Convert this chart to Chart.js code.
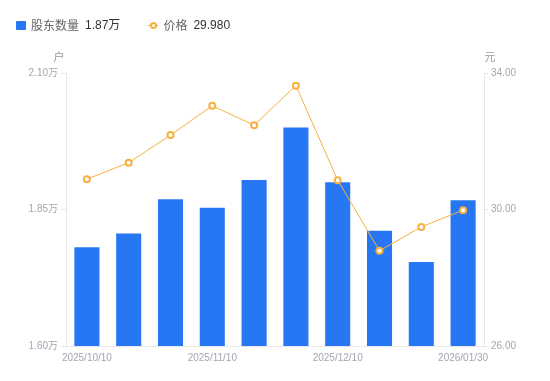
<!DOCTYPE html>
<html>
<head>
<meta charset="utf-8">
<script src="https://cdn.jsdelivr.net/npm/chart.js@4/dist/chart.umd.min.js"></script>
<style>
  html, body { margin: 0; padding: 0; background: #fff; }
  #wrap { position: relative; width: 550px; height: 381px; }
  #legend { position: absolute; left: 16px; top: 17px; height: 16px; display: flex; align-items: center;
    font-family: 'Liberation Sans', 'Noto Sans CJK SC', sans-serif; font-size: 12px; line-height: 16px; }
  .item { display: flex; align-items: center; }
  .name { color: #666; margin-left: 5px; font-family: 'Noto Sans CJK SC', sans-serif; }
  .val { color: #333; margin-left: 6px; }
  .sq { width: 10px; height: 9px; background: #2777f5; border-radius: 1px; }
  .ln { position: relative; width: 10px; height: 8px; }
  .ln::before { content: ''; position: absolute; left: 0; right: 0; top: 3.5px; height: 1px; background: #f7b03f; }
  .ln::after { content: ''; position: absolute; left: 1.5px; top: 0.5px; width: 7px; height: 7px; box-sizing: border-box;
    border: 2px solid #f7b03f; border-radius: 50%; background: #fff; }
  canvas { position: absolute; left: 0; top: 0; }
</style>
</head>
<body>
<div id="wrap">
  <canvas id="c" width="550" height="381"></canvas>
  <div id="legend"></div>
</div>
<script>
// ---- data ----
const categories = ['2025/10/10','2025/10/20','2025/10/31','2025/11/10','2025/11/20','2025/11/30','2025/12/10','2025/12/31','2026/01/20','2026/01/30'];
const shareholders = [1.781, 1.806, 1.869, 1.853, 1.904, 2.000, 1.900, 1.811, 1.754, 1.867]; // 万户
const prices = [30.89, 31.37, 32.18, 33.04, 32.47, 33.63, 30.86, 28.79, 29.49, 29.98]; // 元
const xTickLabels = ['2025/10/10', '2025/11/10', '2025/12/10', '2026/01/30'];
const seriesNames = ['股东数量', '价格'];
const unitLeft = '户';
const unitRight = '元';

const BLUE = '#2777f5';
const ORANGE = '#f7b03f';
const AXIS = '#e6e6e6';
const TICK = '#a3a6b4';
const FONT = "'Liberation Sans', 'Noto Sans CJK SC', sans-serif";

// HTML legend
const lg = document.getElementById('legend');
lg.innerHTML =
  '<div class="item" style="margin-right:28px"><span class="sq"></span><span class="name">' + seriesNames[0] +
  '</span><span class="val">' + shareholders[shareholders.length-1].toFixed(2) + '万</span></div>' +
  '<div class="item"><span class="ln"></span><span class="name">' + seriesNames[1] +
  '</span><span class="val">' + prices[prices.length-1].toFixed(3) + '</span></div>';

const unitPlugin = {
  id: 'units',
  afterDraw(chart) {
    const ctx = chart.ctx;
    const yl = chart.scales.y, yr = chart.scales.y1;
    ctx.save();
    ctx.font = "11px 'Noto Sans CJK SC', sans-serif";
    ctx.fillStyle = '#999';
    ctx.textAlign = 'center';
    ctx.textBaseline = 'middle';
    ctx.fillText(unitLeft, yl.right - 7, chart.chartArea.top - 16);
    ctx.fillText(unitRight, yr.left + 6, chart.chartArea.top - 16);
    ctx.restore();
  }
};

new Chart(document.getElementById('c'), {
  data: {
    labels: categories,
    datasets: [
      {
        type: 'line', label: seriesNames[1], data: prices, yAxisID: 'y1', order: 0,
        borderColor: ORANGE, borderWidth: 1, pointRadius: 3, pointBorderWidth: 2,
        pointBackgroundColor: '#fff', pointBorderColor: ORANGE, tension: 0
      },
      {
        type: 'bar', label: seriesNames[0], data: shareholders, yAxisID: 'y', order: 1,
        backgroundColor: BLUE, borderWidth: 0, categoryPercentage: 1, barPercentage: 0.6
      }
    ]
  },
  options: {
    responsive: false,
    animation: false,
    devicePixelRatio: 1,
    layout: { padding: { top: 73, left: 0, right: 0, bottom: 0 } },
    plugins: { legend: { display: false }, tooltip: { enabled: false } },
    scales: {
      x: {
        type: 'category', position: 'bottom',
        grid: { display: false, drawTicks: false },
        border: { display: true, color: AXIS, width: 1 },
        ticks: {
          color: TICK, font: { family: FONT, size: 10 }, padding: 6, maxRotation: 0, autoSkip: false,
          callback: function (v, i) {
            const lab = categories[i];
            return xTickLabels.includes(lab) ? lab : '';
          }
        },
        afterFit(s) { s.height = 35; }
      },
      y: {
        position: 'left', min: 1.6, max: 2.1,
        grid: { display: true, drawOnChartArea: false, drawTicks: true, tickLength: 5, color: AXIS },
        border: { display: true, color: AXIS },
        ticks: { stepSize: 0.25, color: TICK, font: { family: FONT, size: 10 }, padding: 3,
          callback: (v) => Number(v).toFixed(2) + '万' },
        afterFit(s) { s.width = 66; }
      },
      y1: {
        position: 'right', min: 26, max: 34,
        grid: { display: true, drawOnChartArea: false, drawTicks: true, tickLength: 4, color: AXIS },
        border: { display: true, color: AXIS },
        ticks: { stepSize: 4, color: TICK, font: { family: FONT, size: 10 }, padding: 3,
          callback: (v) => Number(v).toFixed(2) },
        afterFit(s) { s.width = 66; }
      }
    }
  },
  plugins: [unitPlugin]
});
</script>
</body>
</html>
